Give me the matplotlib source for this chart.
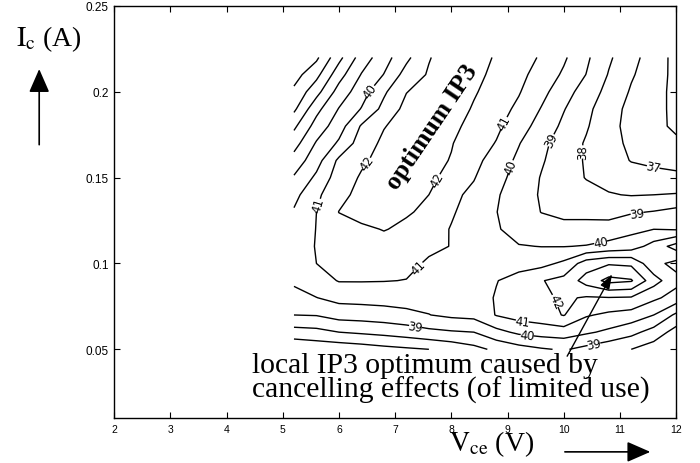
import numpy as np
import matplotlib
matplotlib.use("Agg")
import matplotlib.pyplot as plt
from matplotlib.patches import FancyArrowPatch

plt.rcParams['mathtext.fontset'] = 'stix'

# measurement grid: collector-emitter voltage (V) and collector current (A)
vce = [5.2, 5.6, 6.0, 6.4, 6.8, 7.2, 7.6, 8.0, 8.4, 8.8, 9.2, 9.6, 10.0, 10.4, 10.8, 11.2, 11.6, 12.0]
ic = [0.22, 0.21, 0.20, 0.19, 0.18, 0.17, 0.16, 0.15, 0.14, 0.13, 0.12, 0.11,
      0.10, 0.09, 0.08, 0.07, 0.06, 0.05]

# output IP3 (dBm), one row per collector current, top row first
ip3 = [
    [34.2, 34.8, 36.7, 38.45, 39.57, 40.76, 41.94, 42.5, 42.5, 41.88, 41.41, 40.9, 40.15, 39.18, 38.15, 37.32, 36.52, 35.7],
    [34.6, 35.7, 37.6, 39.05, 40.03, 41.4, 42.1, 42.5, 42.3, 41.73, 41.25, 40.63, 39.85, 38.98, 37.94, 37.1, 36.5, 35.7],
    [35.2, 36.65, 38.4, 39.55, 40.84, 41.97, 42.4, 42.6, 42.1, 41.57, 41.07, 40.3, 39.42, 38.54, 37.7, 36.9, 36.4, 35.7],
    [35.8, 37.7, 39.05, 40.05, 41.3, 42.3, 42.6, 42.5, 41.9, 41.4, 40.8, 39.95, 39.05, 38.3, 37.3, 36.8, 36.4, 35.7],
    [36.8, 38.4, 39.55, 41.1, 41.95, 42.4, 42.6, 42.2, 41.75, 41.2, 40.45, 39.6, 38.8, 38.1, 37.3, 36.7, 36.3, 35.8],
    [37.6, 39.1, 40.15, 41.5, 42.2, 42.5, 42.4, 42.05, 41.5, 40.95, 40.05, 39.25, 38.55, 37.9, 37.35, 36.8, 36.5, 36.2],
    [38.4, 39.6, 41.2, 41.85, 42.3, 42.5, 42.3, 41.95, 41.3, 40.55, 39.8, 39.1, 38.5, 37.9, 37.5, 36.95, 36.8, 36.7],
    [39.1, 40.2, 41.5, 42.1, 42.5, 42.4, 42.2, 41.7, 41.05, 40.35, 39.6, 38.95, 38.5, 37.95, 37.7, 37.5, 37.3, 37.2],
    [39.7, 40.8, 41.7, 42.3, 42.6, 42.3, 42.0, 41.2, 40.8, 40.1, 39.5, 38.9, 38.5, 38.36, 38.06, 37.95, 38.0, 38.07],
    [40.1, 41.0, 42.02, 42.4, 42.4, 42.1, 41.8, 41.1, 40.6, 40.02, 39.5, 38.98, 38.8, 38.76, 38.65, 38.9, 39.05, 39.3],
    [40.5, 41.02, 41.6, 41.8, 42.05, 41.8, 41.4, 40.95, 40.5, 40.1, 39.6, 39.4, 39.25, 39.3, 39.4, 39.75, 39.99, 39.9],
    [40.5, 41.05, 41.5, 41.6, 41.6, 41.45, 41.15, 40.98, 40.5, 40.2, 40.05, 39.98, 39.97, 40.05, 40.3, 40.5, 41.4, 42.4],
    [40.5, 41.0, 41.3, 41.4, 41.4, 41.2, 40.9, 40.7, 40.5, 40.4, 40.5, 40.7, 41.2, 42.5, 42.9, 42.8, 41.3, 40.7],
    [40.2, 40.6, 41.05, 41.05, 41.03, 40.98, 40.6, 40.5, 40.5, 40.95, 41.5, 41.95, 42.3, 43.4, 44.3, 44.1, 42.4, 41.3],
    [39.6, 39.98, 40.3, 40.35, 40.4, 40.5, 40.3, 40.4, 40.4, 41.1, 41.5, 41.8, 42.15, 41.9, 41.95, 41.9, 41.2, 40.6],
    [39.0, 39.05, 39.4, 39.45, 39.55, 39.7, 39.98, 40.2, 40.3, 41.05, 41.4, 41.6, 42.05, 41.1, 40.8, 40.6, 40.0, 38.8],
    [37.6, 37.7, 38.0, 38.15, 38.3, 38.5, 38.75, 38.9, 39.0, 39.7, 40.2, 40.4, 40.5, 40.15, 39.8, 39.3, 38.6, 37.6],
    [36.1, 36.3, 36.35, 36.5, 36.7, 36.85, 37.0, 37.3, 37.7, 38.2, 38.6, 38.9, 39.1, 38.7, 38.3, 38.0, 37.5, 37.2],
]

levels = list(range(30, 46))

# where each printed contour value sits
label_spots = [(6.61, 0.199), (6.47, 0.159), (5.63, 0.134), (7.77, 0.148),
               (7.40, 0.098), (8.98, 0.181), (9.01, 0.157), (9.76, 0.172),
               (10.29, 0.165), (11.59, 0.156), (11.30, 0.130), (10.65, 0.113),
               (7.36, 0.063), (9.26, 0.066), (9.35, 0.059), (9.70, 0.076),
               (10.52, 0.056)]

X, Y = np.meshgrid(vce, ic[::-1])
Z = np.array(ip3)[::-1]

fig = plt.figure(figsize=(7.0, 4.64), dpi=100)
ax = fig.add_axes([0.163, 0.097, 0.803, 0.888])

cs = ax.contour(X, Y, Z, levels=levels, colors='black', linewidths=1.0)
ax.clabel(cs, fmt='%d', fontsize=8.5, inline=True, inline_spacing=2,
          manual=label_spots)

ax.set_xlim(2, 12)
ax.set_ylim(0.01, 0.25)
ax.set_xticks(range(2, 13))
ax.set_yticks([0.05, 0.1, 0.15, 0.2, 0.25])
ax.set_yticklabels(['0.05', '0.1', '0.15', '0.2', '0.25'])
ax.tick_params(direction='in', top=True, right=True, length=4, width=0.8, pad=4)
ax.tick_params(axis='x', labelsize=7.5)
ax.tick_params(axis='y', labelsize=8.5)
for lab in ax.get_xticklabels() + ax.get_yticklabels():
    lab.set_family('Liberation Sans')
for sp in ax.spines.values():
    sp.set_linewidth(1.0)

ax.text(7.66, 0.18, 'optimum IP3', family='Liberation Serif', weight='bold',
        fontsize=18.5, rotation=56, ha='center', va='center')

ax.text(4.46, 0.0365, 'local IP3 optimum caused by', family='Liberation Serif',
        fontsize=21.3, ha='left', va='baseline')
ax.text(4.46, 0.0222, 'cancelling effects (of limited use)', family='Liberation Serif',
        fontsize=21.3, ha='left', va='baseline')
ax.annotate('', xy=(10.86, 0.0938), xytext=(10.06, 0.046),
            arrowprops=dict(arrowstyle='-|>,head_length=0.9,head_width=0.3',
                            color='black', lw=1.0, shrinkA=0, shrinkB=0))

# axis captions with direction arrows, placed in figure coordinates
fig.text(0.07, 0.915, r'$\mathrm{I_c}$ (A)', fontsize=20, ha='center', va='center',
         family='Liberation Serif')
fig.patches.append(FancyArrowPatch(
    (0.056, 0.68), (0.056, 0.855), transform=fig.transFigure,
    arrowstyle='-|>,head_length=8,head_width=3.5', color='black', lw=1.2,
    mutation_scale=1.8))
fig.text(0.703, 0.043, r'$\mathrm{V_{ce}}$ (V)', fontsize=20, ha='center',
         va='center', family='Liberation Serif')
fig.patches.append(FancyArrowPatch(
    (0.803, 0.024), (0.933, 0.024), transform=fig.transFigure,
    arrowstyle='-|>,head_length=8,head_width=3.5', color='black', lw=1.2,
    mutation_scale=1.8))

fig.savefig('out.png', dpi=100)
